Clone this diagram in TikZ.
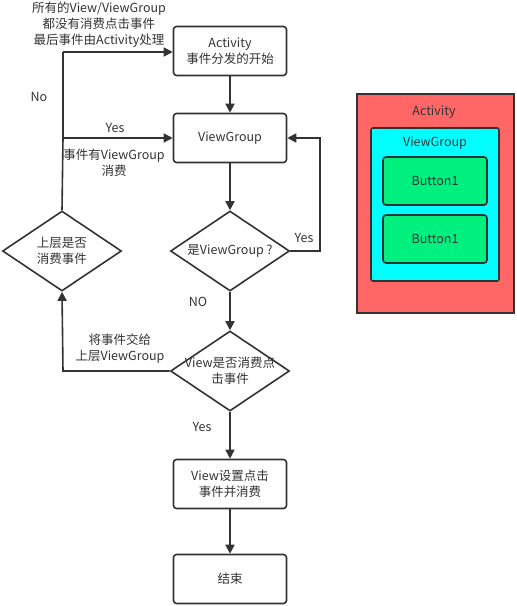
\documentclass[tikz,border=0pt]{standalone}
\usepackage{fontspec}
\setmainfont{Noto Sans CJK SC}
\usetikzlibrary{shapes.geometric,arrows.meta}
\definecolor{ln}{HTML}{333333}
\definecolor{redfill}{HTML}{FF6666}
\definecolor{cyanfill}{HTML}{00FFFF}
\definecolor{greenfill}{HTML}{00F080}
\begin{document}
\begin{tikzpicture}[x=1pt,y=-1pt,
  every node/.style={font=\fontsize{12.5}{16}\selectfont, text=ln, align=center, inner sep=0pt},
  procbox/.style={draw=ln, line width=1.6pt, rounded corners=3pt, minimum width=113pt, minimum height=49pt},
  decbox/.style={draw=ln, line width=1.6pt, diamond, aspect=1.5, inner sep=-12pt, minimum width=119pt, minimum height=80pt},
  conn/.style={draw=ln, line width=1.6pt, -{Triangle[length=9pt,width=9pt]}},
  plain/.style={draw=ln, line width=1.6pt}]
\useasboundingbox (0,0) rectangle (517,606);
% flow
\node[procbox] (act) at (230,51) {Activity\\事件分发的开始};
\node[procbox] (vg) at (230,138) {ViewGroup};
\node[decbox] (isvg) at (230,251) {是ViewGroup ?};
\node[decbox] (up) at (62,251) {上层是否\\消费事件};
\node[decbox] (vc) at (230,371) {View是否消费点\\击事件};
\node[procbox] (vset) at (230,484) {View设置点击\\事件并消费};
\node[procbox] (end) at (230,579) {结束};
\coordinate (r1) at (320,251);
\coordinate (r2) at (320,138);
\coordinate (l1) at (63,371);
\coordinate (l2) at (63,138);
\coordinate (l3) at (63,52);
\draw[conn] (act) -- (vg);
\draw[conn] (vg) -- (isvg);
\draw[conn] (isvg) -- (vc);
\draw[conn] (vc) -- (vset);
\draw[conn] (vset) -- (end);
\draw[conn] (isvg.east) -- (r1) -- (r2) -- (vg.east);
\draw[conn] (vc.west) -- (l1) -- (up.south);
\draw[plain] (up.north) -- (l2) -- (l3);
\draw[conn] (l2) -- (vg.west);
\draw[conn] (l3) -- (act.west |- l3);
% labels
\node at (304,238) {Yes};
\node at (198,302) {NO};
\node at (202,427) {Yes};
\node at (120,349) {将事件交给\\上层ViewGroup};
\node at (115,128) {Yes};
\node at (114,163) {事件有ViewGroup\\消费};
\node at (39,97) {No};
\node at (99,25) {所有的View/ViewGroup\\都没有消费点击事件\\最后事件由Activity处理};
% right panel
\draw[ln, line width=1.6pt, fill=redfill] (357,94) rectangle (514,313);
\node at (434,112) {Activity};
\draw[ln, line width=1.6pt, fill=cyanfill, rounded corners=2pt] (371,128) rectangle (499,281);
\node at (435,143) {ViewGroup};
\node[draw=ln, line width=1.6pt, fill=greenfill, rounded corners=3pt, minimum width=104pt, minimum height=48pt] (b1) at (435,181) {Button1};
\node[draw=ln, line width=1.6pt, fill=greenfill, rounded corners=3pt, minimum width=104pt, minimum height=48pt] (b2) at (435,239) {Button1};
\end{tikzpicture}
\end{document}
